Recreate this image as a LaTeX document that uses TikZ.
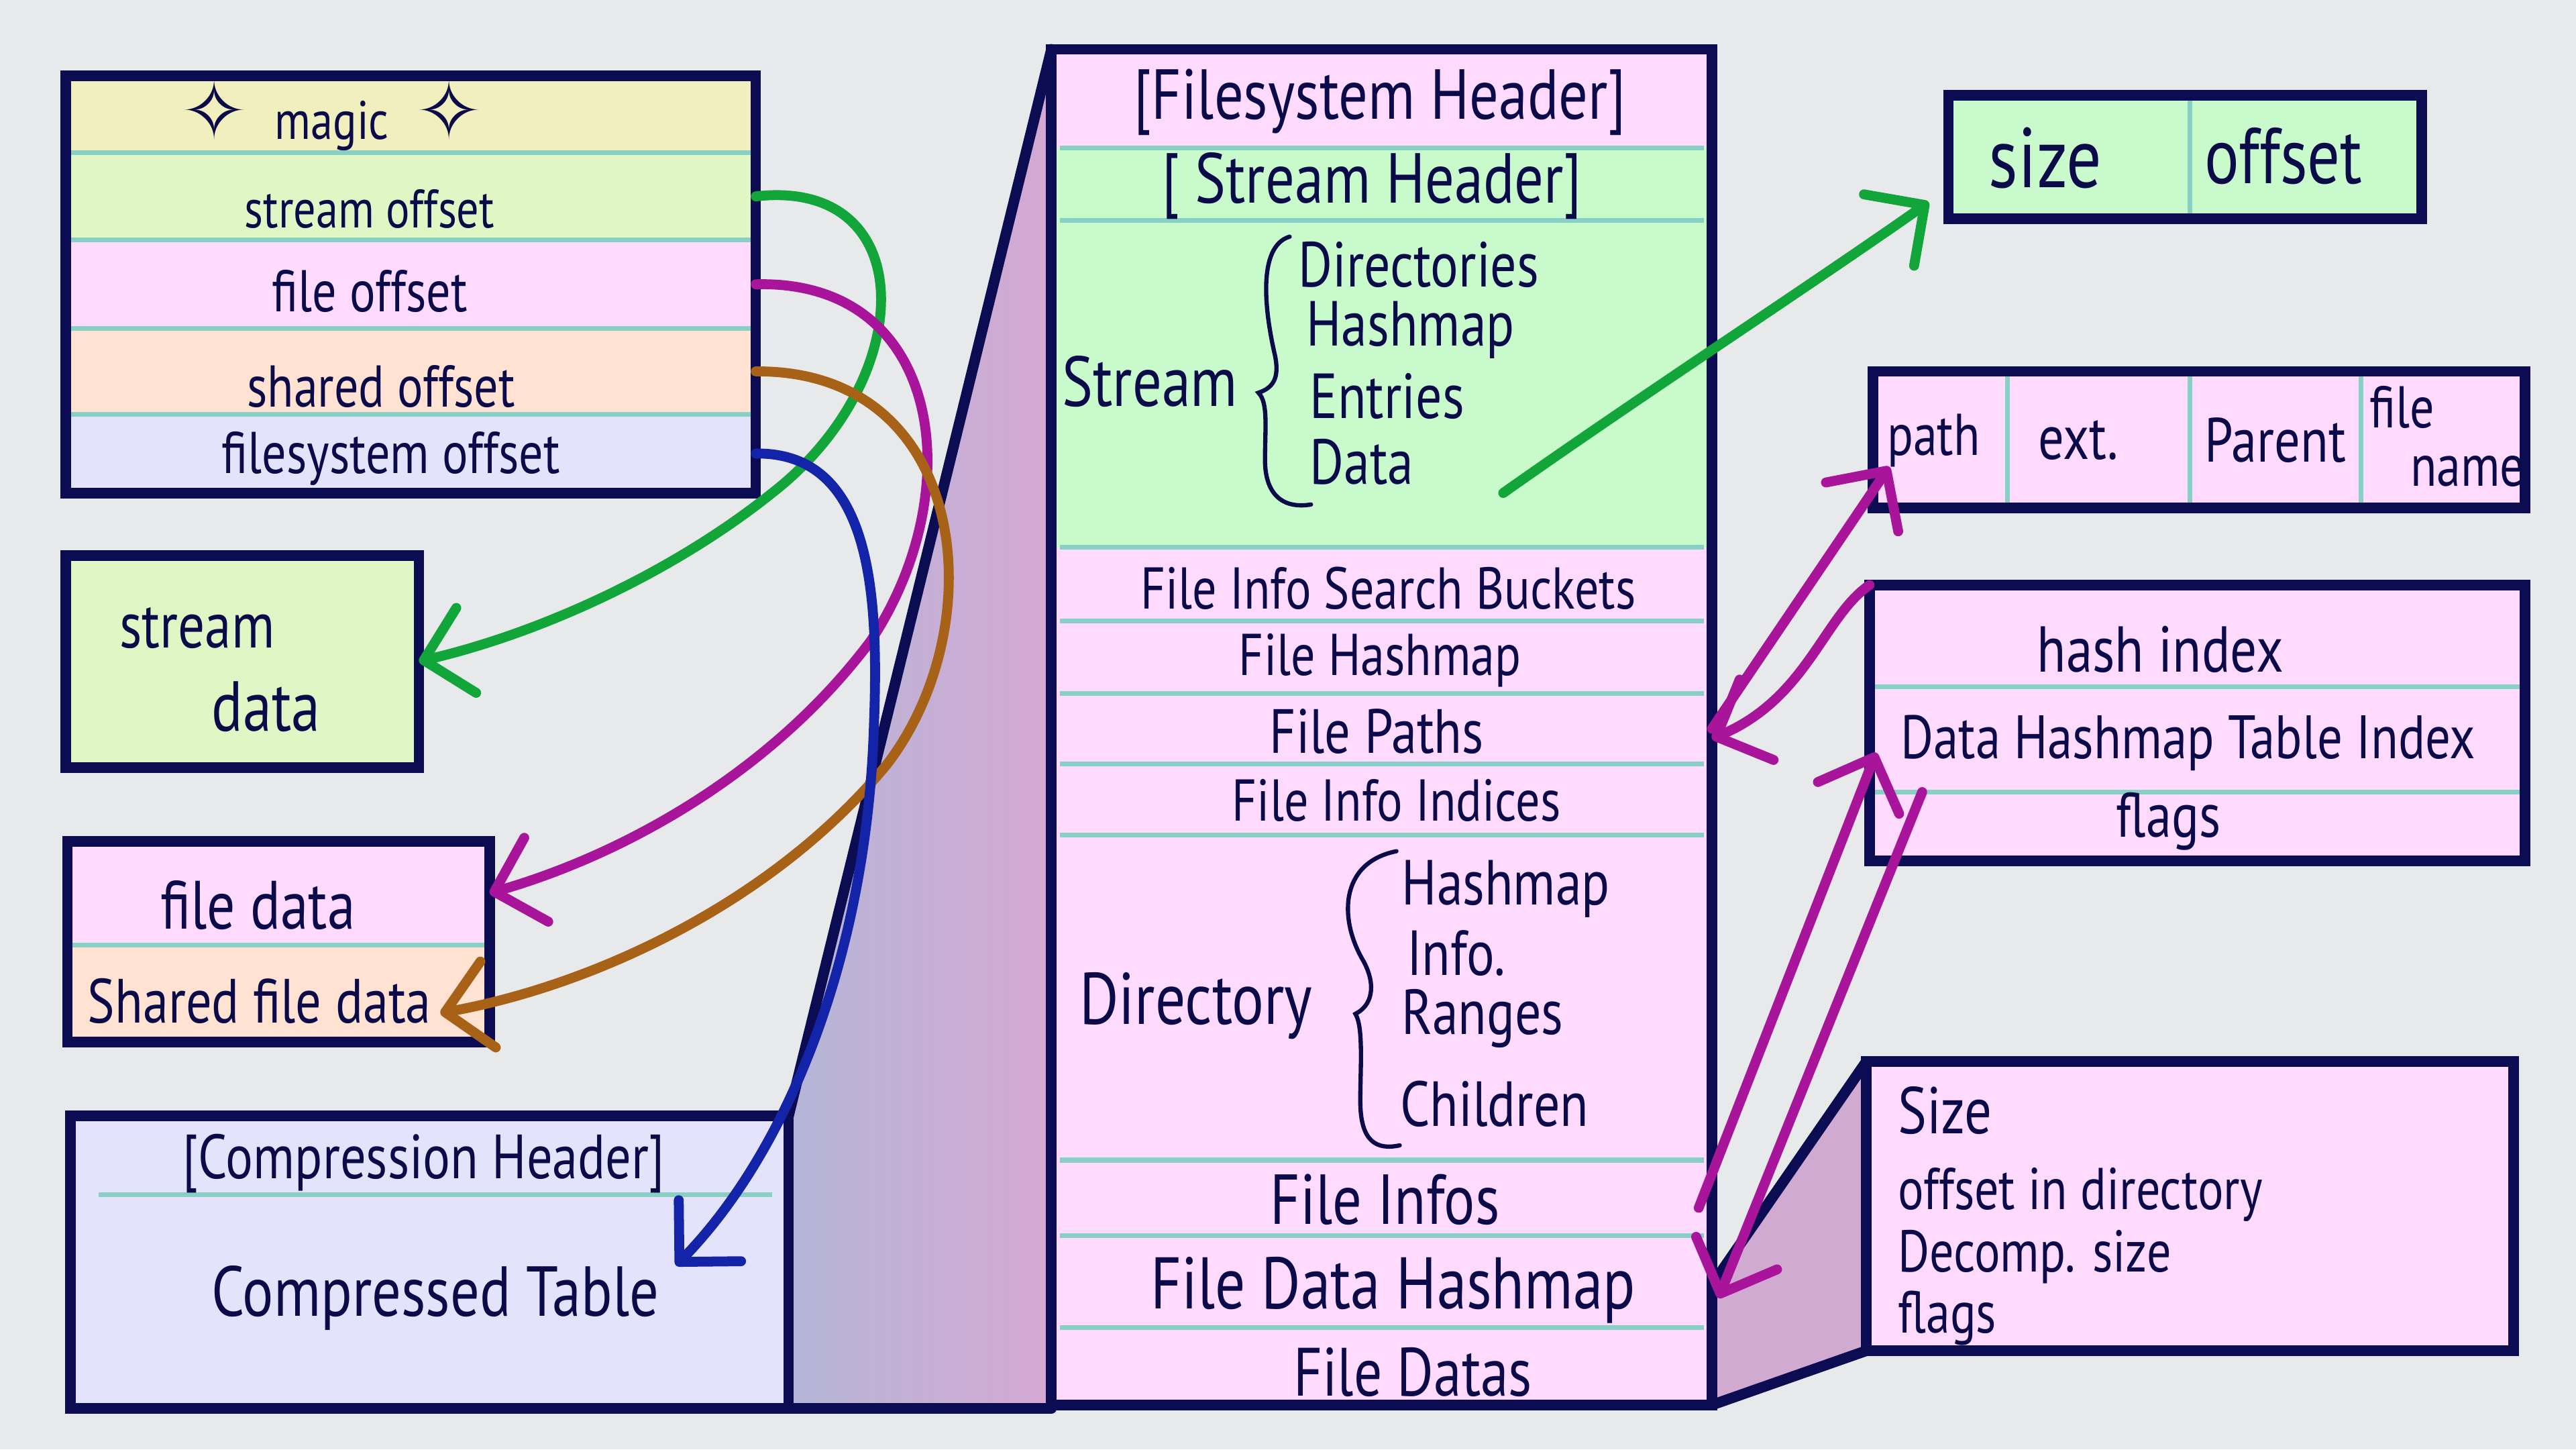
\documentclass[tikz,border=0pt]{standalone}
\usepackage{fontspec}
\setmainfont{PT Sans}[FakeStretch=0.82]
\newfontfamily\sparkfont{DejaVu Sans}
\usetikzlibrary{arrows.meta,positioning,fit,calc}

\newcommand{\fsz}[1]{\fontsize{#1}{#1}\selectfont}

\definecolor{cBg}{HTML}{E8E9EA}
\definecolor{cNavy}{HTML}{0C0C52}
\definecolor{cInk}{HTML}{0B0B4A}
\definecolor{cTeal}{HTML}{88CFC4}
\definecolor{cYel}{HTML}{F0EFBD}
\definecolor{cLime}{HTML}{E0F7C5}
\definecolor{cMint}{HTML}{C9FACC}
\definecolor{cPink}{HTML}{FFDAFF}
\definecolor{cPeach}{HTML}{FFE2D2}
\definecolor{cLav}{HTML}{E3E4FC}
\definecolor{cMauve}{HTML}{D0AAD0}
\definecolor{cTrapL}{HTML}{B4B6D7}
\definecolor{cTrapR}{HTML}{D4A8D2}
\definecolor{cGreen}{HTML}{12A53A}
\definecolor{cMagenta}{HTML}{A8159A}
\definecolor{cBrown}{HTML}{A86218}
\definecolor{cBlue}{HTML}{1424A8}

\begin{document}
\begin{tikzpicture}[x=0.2449mm, y=-0.2449mm,
row/.style={inner sep=0pt, outer sep=0pt},
frame/.style={draw=cNavy, line width=4.5pt, inner sep=0pt, outer sep=0pt},
edge/.style={draw=cNavy, line width=4.5pt, line cap=round},
sep/.style={draw=cTeal, line width=2pt},
lbl/.style={text=cInk, inner sep=0pt, font=\fsz{25}},
brc/.style={draw=cInk, line width=1.8pt, line cap=round},
link/.style={line width=4.2pt, line cap=round, -{Straight Barb[length=6.5mm,width=13mm,round]}}
]
\fill[cBg] (0,0) rectangle (1568,882);
\useasboundingbox (0,0) rectangle (1568,882);

% perspective wedges
\shade[left color=cTrapL, right color=cTrapR] (640,30) -- (480,679) -- (480,857) -- (640,857) -- cycle;
\draw[edge] (640,30) -- (480,679);
\draw[edge] (480,857) -- (640,857);
\fill[cMauve] (1042,782) -- (1136,646) -- (1136,822) -- (1042,855) -- cycle;
\draw[edge] (1042,782) -- (1136,646);
\draw[edge] (1042,855) -- (1136,822);

% header box
\node[row, fill=cYel, fit={(40,46) (460,93)}] (magic) {};
\node[row, fill=cLime, fit={(40,93) (460,146)}] (streamoff) {};
\node[row, fill=cPink, fit={(40,146) (460,200)}] (fileoff) {};
\node[row, fill=cPeach, fit={(40,200) (460,252)}] (sharedoff) {};
\node[row, fill=cLav, fit={(40,252) (460,300)}] (fsoff) {};
\foreach \r in {magic,streamoff,fileoff,sharedoff}
  \draw[sep] (\r.south west) -- (\r.south east);
\node[frame, fit=(magic)(fsoff)] (hdrbox) {};
\node[lbl, font=\fsz{23}] (magictxt) at (202,70) {{\sparkfont\fsz{34}✧}\hspace{4mm}magic\hspace{4mm}{\sparkfont\fsz{34}✧}};
\node[lbl, font=\fsz{23}] (streamofftxt) at (225,127) {stream offset};
\node[lbl, font=\fsz{25}] (fileofftxt) at (225,177) {file offset};
\node[lbl, font=\fsz{25}] (sharedofftxt) at (232,235) {shared offset};
\node[lbl, font=\fsz{25}] (fsofftxt) at (238,279) {filesystem offset};

% stream data box
\node[row, frame, fill=cLime, fit={(40,338) (255,467)}] (streamdata) {};
\node[lbl, font=\fsz{27.5}] (sdtxt1) at (120,382) {stream};
\node[lbl, font=\fsz{30}] (sdtxt2) at (162,430) {data};

% file data box
\node[row, fill=cPink, fit={(41,512) (298,575)}] (filedata) {};
\node[row, fill=cPeach, fit={(41,575) (298,634)}] (sfdata) {};
\draw[sep] (filedata.south west) -- (filedata.south east);
\node[frame, fit=(filedata)(sfdata)] (fdbox) {};
\node[lbl, font=\fsz{29}] (fdtxt) at (157,551) {file data};
\node[lbl, font=\fsz{26.5}] (sfdtxt) at (158,609) {Shared file data};

% compression box
\node[row, frame, fill=cLav, fit={(43,679) (480,857)}] (comp) {};
\draw[sep] (60,727) -- (470,727);
\node[lbl, font=\fsz{26.5}] (comphdr) at (258,708) {[Compression Header]};
\node[lbl, font=\fsz{30}] (ctable) at (265,790) {Compressed Table};

% filesystem box
\node[row, fill=cPink, fit={(640,30) (1042,90)}] (fshdr) {};
\node[row, fill=cMint, fit={(640,90) (1042,134)}] (sthdr) {};
\node[row, fill=cMint, fit={(640,134) (1042,333)}] (stream) {};
\node[row, fill=cPink, fit={(640,333) (1042,378)}] (buckets) {};
\node[row, fill=cPink, fit={(640,378) (1042,422)}] (fhash) {};
\node[row, fill=cPink, fit={(640,422) (1042,465)}] (fpaths) {};
\node[row, fill=cPink, fit={(640,465) (1042,508)}] (findices) {};
\node[row, fill=cPink, fit={(640,508) (1042,706)}] (dir) {};
\node[row, fill=cPink, fit={(640,706) (1042,752)}] (finfos) {};
\node[row, fill=cPink, fit={(640,752) (1042,808)}] (fdhash) {};
\node[row, fill=cPink, fit={(640,808) (1042,855)}] (fdatas) {};
\foreach \r in {fshdr,sthdr,stream,buckets,fhash,fpaths,findices,dir,finfos,fdhash}
  \draw[sep] ($(\r.south west)+(5,0)$) -- ($(\r.south east)+(-5,0)$);
\node[frame, fit=(fshdr)(fdatas)] (fsbox) {};

\node[lbl, font=\fsz{30}] (fshdrtxt) at (840,62) {[Filesystem Header]};
\node[lbl, font=\fsz{30}] (sthdrtxt) at (835,113) {[ Stream Header]};
\node[lbl, font=\fsz{30}] (streamtxt) at (700,232) {Stream};
\draw[brc] (785,144) .. controls (765,150) and (770,190) .. (776,216) .. controls (779,230) and (775,236) .. (766,239) .. controls (772,245) and (770,260) .. (770,280) .. controls (770,300) and (780,310) .. (798,307);
\node[lbl, font=\fsz{27}, anchor=west] (stdirs) at (790,161) {Directories};
\node[lbl, font=\fsz{27}, anchor=west] (sthash) at (795,201) {Hashmap};
\node[lbl, font=\fsz{27}, anchor=west] (stentries) at (797,241) {Entries};
\node[lbl, font=\fsz{27}, anchor=west] (stdata) at (797,281) {Data};
\node[lbl, font=\fsz{25}] (bucketstxt) at (845,358) {File Info Search Buckets};
\node[lbl, font=\fsz{25}] (fhashtxt) at (840,402) {File Hashmap};
\node[lbl, font=\fsz{26.5}] (fpathstxt) at (838,445) {File Paths};
\node[lbl, font=\fsz{25}] (findicestxt) at (850,487) {File Info Indices};
\node[lbl, font=\fsz{31}] (dirtxt) at (728,612) {Directory};
\draw[brc] (850,518) .. controls (815,525) and (815,560) .. (830,585) .. controls (838,600) and (835,612) .. (825,617) .. controls (830,625) and (828,650) .. (828,670) .. controls (828,695) and (838,700) .. (852,697);
\node[lbl, font=\fsz{27}, anchor=west] (dirhash) at (853,541) {Hashmap};
\node[lbl, font=\fsz{27}, anchor=west] (dirinfo) at (856,580) {Info.};
\node[lbl, font=\fsz{27}, anchor=west] (dirranges) at (853,620) {Ranges};
\node[lbl, font=\fsz{27}, anchor=west] (dirchild) at (852,672) {Children};
\node[lbl, font=\fsz{30}] (finfostxt) at (843,730) {File Infos};
\node[lbl, font=\fsz{31}] (fdhashtxt) at (848,785) {File Data Hashmap};
\node[lbl, font=\fsz{29}] (fdatastxt) at (860,835) {File Datas};

% size / offset box
\node[row, fill=cMint, fit={(1186,58) (1333,133)}] (szc) {};
\node[row, fill=cMint, fit={(1333,58) (1474,133)}] (offc) {};
\draw[sep] (offc.north west) -- (offc.south west);
\node[frame, fit=(szc)(offc)] (szbox) {};
\node[lbl, font=\fsz{36}] (sztxt) at (1245,96) {size};
\node[lbl, font=\fsz{33.5}] (offtxt) at (1390,95) {offset};

% path box
\node[row, fill=cPink, fit={(1140,226) (1222,309)}] (pathc) {};
\node[row, fill=cPink, fit={(1222,226) (1333,309)}] (extc) {};
\node[row, fill=cPink, fit={(1333,226) (1437,309)}] (parentc) {};
\node[row, fill=cPink, fit={(1437,226) (1537,309)}] (fnamec) {};
\foreach \r in {pathc,extc,parentc}
  \draw[sep] (\r.north east) -- (\r.south east);
\node[frame, fit=(pathc)(fnamec)] (pathbox) {};
\node[lbl, font=\fsz{25}] (pathtxt) at (1177,268) {path};
\node[lbl, font=\fsz{26.5}] (exttxt) at (1265,268) {ext.};
\node[lbl, font=\fsz{26.5}] (parenttxt) at (1385,268) {Parent};
\node[lbl, font=\fsz{25}] (filetxt) at (1462,248) {file};
\node[lbl, font=\fsz{25}] (nametxt) at (1502,287) {name};

% hash index box
\node[row, fill=cPink, fit={(1138,356) (1537,418)}] (hashidx) {};
\node[row, fill=cPink, fit={(1138,418) (1537,482)}] (dhti) {};
\node[row, fill=cPink, fit={(1138,482) (1537,524)}] (hflags) {};
\draw[sep] (hashidx.south west) -- (hashidx.south east);
\draw[sep] (dhti.south west) -- (dhti.south east);
\node[frame, fit=(hashidx)(hflags)] (hashbox) {};
\node[lbl, font=\fsz{27.5}] (hashidxtxt) at (1315,395) {hash index};
\node[lbl, font=\fsz{26}] (dhtitxt) at (1332,452) {Data Hashmap Table Index};
\node[lbl, font=\fsz{26.5}] (hflagstxt) at (1320,500) {flags};

% file info box
\node[row, frame, fill=cPink, fit={(1136,646) (1530,822)}] (infobox) {};
\node[lbl, font=\fsz{28}, anchor=west] (isize) at (1155,676) {Size};
\node[lbl, font=\fsz{25}, anchor=west] (ioffset) at (1155,727) {offset in directory};
\node[lbl, font=\fsz{25}, anchor=west] (idecomp) at (1155,765) {Decomp. size};
\node[lbl, font=\fsz{25}, anchor=west] (iflags) at (1155,802) {flags};

% arrows
\coordinate (gstart) at (915,300);
\draw[link, cGreen] (streamoff.east) .. controls (560,108) and (560,230) .. (470,300) .. controls (410,348) and (330,385) .. (streamdata.east);
\draw[link, cMagenta] (fileoff.east) .. controls (575,170) and (590,300) .. (530,390) .. controls (470,470) and (380,520) .. (filedata.east);
\draw[link, cBrown] (sharedoff.east) .. controls (590,225) and (605,380) .. (540,465) .. controls (470,550) and (360,600) .. ($(sfdata.east)+(-30,12)$);
\draw[link, cBlue] (fsoff.east) .. controls (530,275) and (535,360) .. (532,440) .. controls (528,580) and (480,700) .. ($(ctable.north east)+(10,0)$);
\draw[link, cGreen] (gstart) .. controls (1000,240) and (1100,175) .. ($(szbox.south west)+(-12,-10)$);
\draw[link, cMagenta] (fpaths.east) -- ($(pathc.south west)+(10,-25)$);
\draw[link, cMagenta] (hashidx.north west) .. controls (1110,375) and (1100,425) .. ($(fpaths.east)+(0,6)$);
\draw[link, cMagenta] ($(finfos.east)+(-8,6)$) -- ($(dhti.west)+(4,8)$);
\draw[link, cMagenta] ($(dhti.south west)+(32,0)$) -- ($(fdhash.east)+(4,10)$);
\end{tikzpicture}
\end{document}
